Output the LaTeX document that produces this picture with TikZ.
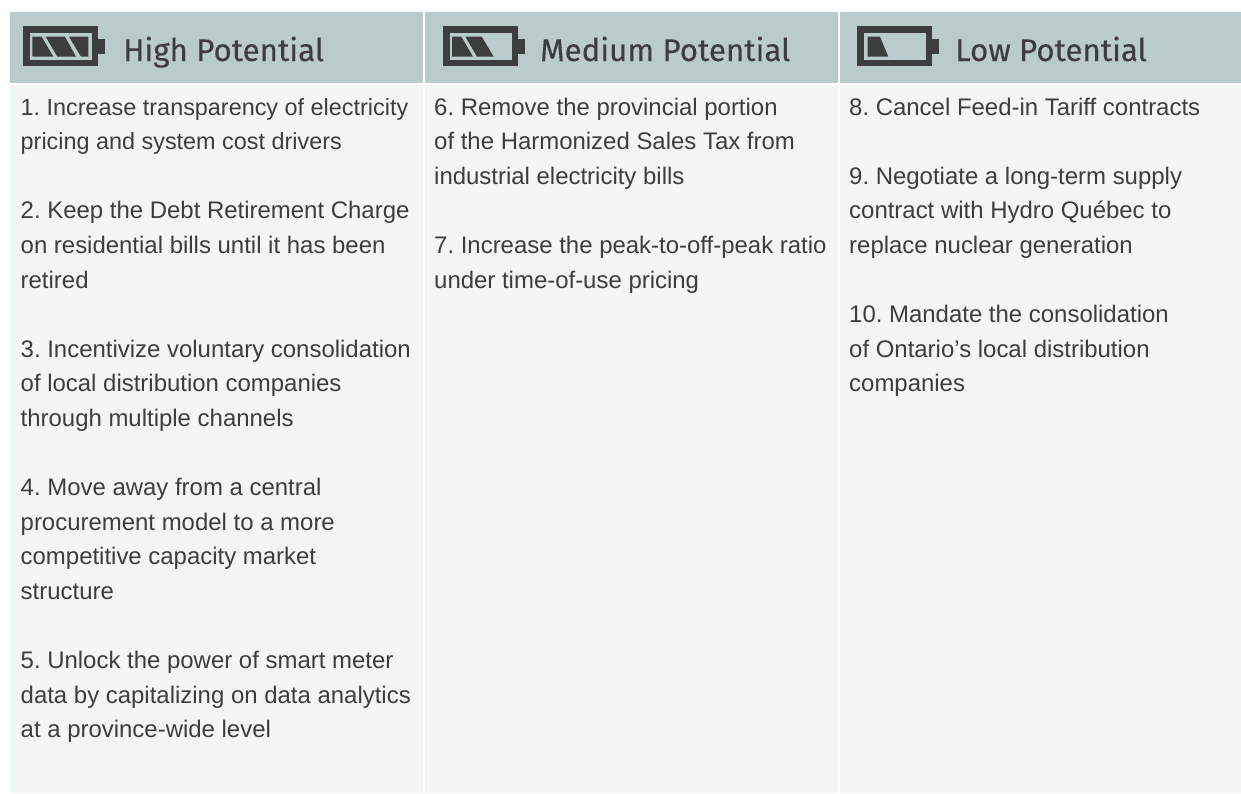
\documentclass[tikz,border=0pt]{standalone}
\usepackage{fontspec}
\setmainfont{Liberation Sans}
\newfontfamily\headfont[FakeBold=0.25]{Fira Sans}
\definecolor{headbg}{HTML}{BACCCA}
\definecolor{bodybg}{HTML}{F2F6F5}
\definecolor{ink}{HTML}{3D3D3D}
\newcommand{\batt}[3]{%
 \begin{scope}[shift={(#1,#2)}]
  \fill[ink] (0,0) rectangle (75,39.7);
  \fill[headbg] (6.8,7.2) rectangle (69,34);
  \fill[ink] (75,13.3) rectangle (82,28);
  #3
 \end{scope}}
\newcommand{\tighter}{\fontsize{23.4}{34}\selectfont}
\tikzset{
 x=1pt,y=-1pt,
 headcell/.style={fill=headbg},
 bodycell/.style={fill=bodybg},
 headtext/.style={anchor=base west,inner sep=0pt,text=ink,font=\headfont\fontsize{31.3}{31.3}\selectfont},
 bodytext/.style={anchor=base west,inner sep=0pt,text=ink,font=\frenchspacing\fontsize{23.95}{34}\selectfont},
 cellfill/.style={fill=ink}
}
\begin{document}
\begin{tikzpicture}
\useasboundingbox (0,0) rectangle (1241,793);
\fill[white] (0,0) rectangle (1241,793);
\fill[headcell] (10,12) rectangle (423,83);
\fill[headcell] (425,12) rectangle (838,83);
\fill[headcell] (840,12) rectangle (1241,83);
\fill[bodycell] (10,85) rectangle (423,793);
\fill[bodycell] (425,85) rectangle (838,793);
\fill[bodycell] (840,85) rectangle (1241,793);
% batteries
\batt{23}{26}{
 \fill[cellfill] (9.3,10.7) -- (18.7,10.7) -- (30.3,30.7) -- (9.3,30.7) -- cycle;
 \fill[cellfill] (22.7,10.7) -- (42,10.7) -- (53,30.7) -- (34.3,30.7) -- cycle;
 \fill[cellfill] (46,10.7) -- (65.3,10.7) -- (65.3,30.7) -- (58,30.7) -- cycle;
}
\batt{442.7}{26}{
 \fill[cellfill] (9.3,10.7) -- (18.7,10.7) -- (30.3,30.7) -- (9.3,30.7) -- cycle;
 \fill[cellfill] (22.7,10.7) -- (39,10.7) -- (51,30.7) -- (34.3,30.7) -- cycle;
}
\batt{857.3}{26}{
 \fill[cellfill] (10.3,10.7) -- (22.7,10.7) -- (31,30.7) -- (10.3,30.7) -- cycle;
}
\node[headtext] (h1) at (123,61) {High Potential};
\node[headtext] (h2) at (540,61) {Medium Potential};
\node[headtext] (h3) at (955,61) {Low Potential};
\foreach \nm/\tx/\ty/\txt in {
 a1/20.5/115/{\tighter 1. Increase transparency of electricity},
 a2/20.5/149.6/{\tighter pricing and system cost drivers},
 a3/20.5/218.8/{2. Keep the Debt Retirement Charge},
 a4/20.5/253.4/{on residential bills until it has been},
 a5/20.5/288/{retired},
 a6/20.5/357.2/{3. Incentivize voluntary consolidation},
 a7/20.5/391.8/{of local distribution companies},
 a8/20.5/426.4/{through multiple channels},
 a9/20.5/495.6/{4. Move away from a central},
 a10/20.5/530.2/{procurement model to a more},
 a11/20.5/564.8/{competitive capacity market},
 a12/20.5/599.4/{structure},
 a13/20.5/668.6/{5. Unlock the power of smart meter},
 a14/20.5/703.2/{data by capitalizing on data analytics},
 a15/20.5/737.8/{at a province-wide level},
 b1/434/115/{6. Remove the provincial portion},
 b2/434/149.6/{of the Harmonized Sales Tax from},
 b3/434/184.2/{industrial electricity bills},
 b4/434/253.4/{7. Increase the peak-to-off-peak ratio},
 b5/434/288/{under time-of-use pricing},
 c1/849/115/{8. Cancel Feed-in Tariff contracts},
 c2/849/184.2/{9. Negotiate a long-term supply},
 c3/849/218.8/{contract with Hydro Québec to},
 c4/849/253.4/{replace nuclear generation},
 c5/849/322.6/{10. Mandate the consolidation},
 c6/849/357.2/{of Ontario’s local distribution},
 c7/849/391.8/{companies}}
 {\node[bodytext] (\nm) at (\tx,\ty) {\txt};}
\end{tikzpicture}
\end{document}
